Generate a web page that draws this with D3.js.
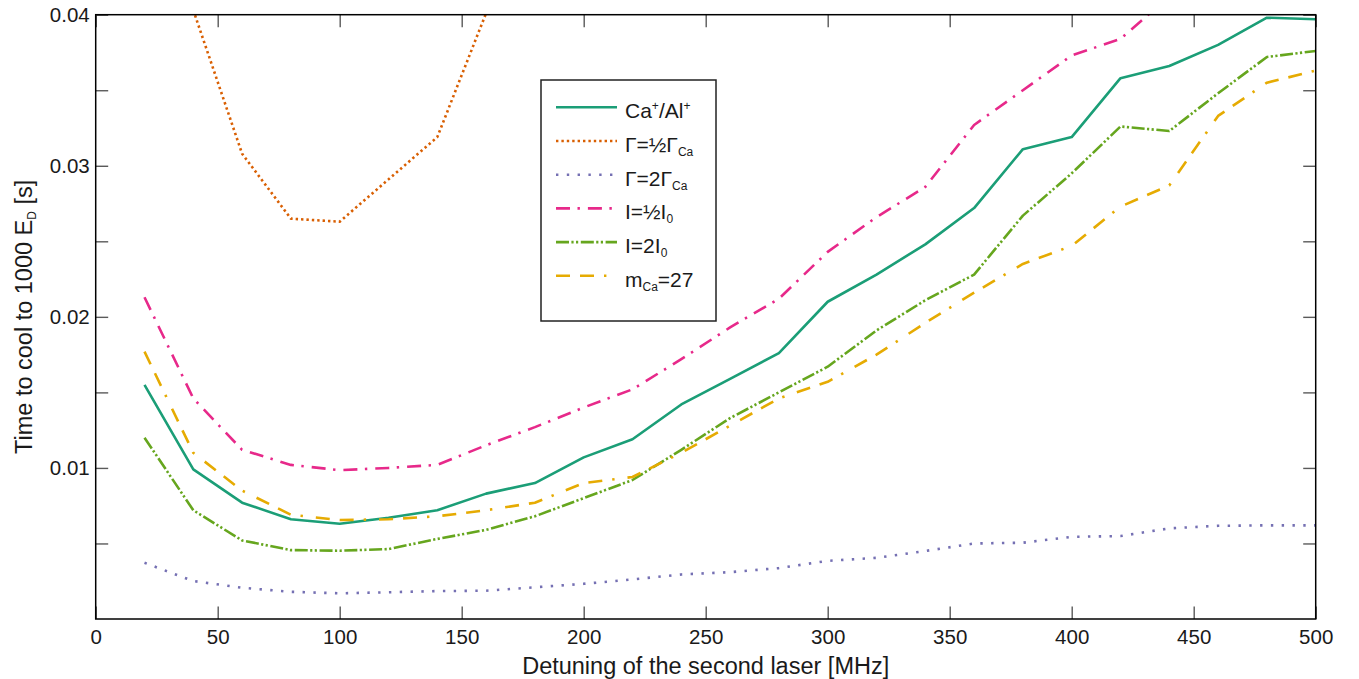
<!DOCTYPE html>
<html>
<head>
<meta charset="utf-8">
<script src="https://cdn.jsdelivr.net/npm/d3@7/dist/d3.min.js"></script>
<style>
  html, body { margin: 0; padding: 0; background: #fff; }
  svg { display: block; font-family: "Liberation Sans", Arial, Helvetica, sans-serif; }
</style>
</head>
<body>
<svg id="chart" width="1359" height="679"></svg>
<script>
// Detuning of the second laser [MHz]
const detuning = [20, 40, 60, 80, 100, 120, 140, 160, 180, 200, 220, 240, 260,
                  280, 300, 320, 340, 360, 380, 400, 420, 440, 460, 480, 500];

// Cooling time to 1000 E_D [s] for each configuration
const caAl = [0.0155, 0.0099, 0.0077, 0.0066, 0.0063, 0.0067, 0.0072, 0.0083, 0.0090, 0.0107,
              0.0119, 0.0142, 0.0159, 0.0176, 0.0210, 0.0228, 0.0248, 0.0272, 0.0311, 0.0319,
              0.0358, 0.0366, 0.0380, 0.0398, 0.0397];
const gammaHalf = [null, 0.0403, 0.0308, 0.0265, 0.0263, 0.0291, 0.0319, 0.0401, null, null,
                   null, null, null, null, null, null, null, null, null, null,
                   null, null, null, null, null];
const gammaDouble = [0.00372, 0.00251, 0.00207, 0.00180, 0.00170, 0.00177, 0.00185, 0.00187, 0.00210, 0.00233,
                     0.00262, 0.00295, 0.00310, 0.00337, 0.00385, 0.00405, 0.00450, 0.00500, 0.00505, 0.00544,
                     0.00549, 0.00600, 0.00617, 0.00620, 0.00620];
const intensityHalf = [0.0213, 0.0146, 0.0112, 0.0102, 0.00985, 0.0100, 0.0102, 0.0115, 0.0127, 0.0140,
                       0.0152, 0.0172, 0.0193, 0.0212, 0.0243, 0.0266, 0.0286, 0.0327, 0.0350, 0.0373,
                       0.0384, 0.0412, null, null, null];
const intensityDouble = [0.0120, 0.0072, 0.0052, 0.00456, 0.00452, 0.00463, 0.0053, 0.0059, 0.0068, 0.0080,
                         0.0092, 0.0112, 0.0133, 0.0150, 0.0167, 0.0191, 0.0211, 0.0228, 0.0267, 0.0295,
                         0.0326, 0.0323, 0.0348, 0.0372, 0.0376];
const massCa27 = [0.0177, 0.0110, 0.0085, 0.0069, 0.00655, 0.0066, 0.0068, 0.0072, 0.0077, 0.0090,
                  0.0094, 0.0110, 0.0128, 0.0146, 0.0157, 0.0175, 0.0196, 0.0216, 0.0235, 0.0247,
                  0.0273, 0.0287, 0.0333, 0.0355, 0.0363];

// Axis ticks
const xTicks = [0, 50, 100, 150, 200, 250, 300, 350, 400, 450, 500];
const yTicks = [0.005, 0.01, 0.015, 0.02, 0.025, 0.03, 0.035, 0.04];
const yLabelled = [0.01, 0.02, 0.03, 0.04];

// Legend labels as runs of normal / sub / sup text
const legendLabels = [
  [["Ca"], ["+", "sup"], ["/Al"], ["+", "sup"]],
  [["Γ=½Γ"], ["Ca", "sub"]],
  [["Γ=2Γ"], ["Ca", "sub"]],
  [["I=½I"], ["0", "sub"]],
  [["I=2I"], ["0", "sub"]],
  [["m"], ["Ca", "sub"], ["=27"]]
];

const series = [
  { values: caAl,            color: "#1b9e77", dash: null },
  { values: gammaHalf,       color: "#d95f02", dash: "2.4,3" },
  { values: gammaDouble,     color: "#7570b3", dash: "2.4,8.4" },
  { values: intensityHalf,   color: "#e7298a", dash: "14,7.5,2.4,8" },
  { values: intensityDouble, color: "#66a61e", dash: "13,2.4,2.2,2.4,2.2,2.6" },
  { values: massCa27,        color: "#e6ab02", dash: "14,10,14,10,2.4,13" }
];

const svg = d3.select("#chart");
const plot = { left: 95.7, right: 1315.7, top: 14.7, bottom: 619 };
const textColor = "#1a1a1a";

const x = d3.scaleLinear().domain([0, 500]).range([plot.left, plot.right]);
const y = d3.scaleLinear().domain([0, 0.04]).range([plot.bottom, plot.top]);

const tickLen = 12.5;
const tickColor = "#5a5a5a";
const near = (v, arr) => arr.some(a => Math.abs(a - v) < 1e-9);

function styleAxis(g, labelled) {
  g.select(".domain").remove();
  g.selectAll(".tick line").attr("stroke", tickColor).attr("stroke-width", 1.4);
  g.selectAll(".tick text")
    .attr("fill", textColor)
    .style("font-size", labelled ? "20.5px" : "0px")
    .style("font-family", "'Liberation Sans', Arial, sans-serif");
}

// Bottom axis
svg.append("g")
  .attr("transform", `translate(0,${plot.bottom})`)
  .call(d3.axisBottom(x).tickValues(xTicks).tickSize(-tickLen).tickPadding(10).tickFormat(d3.format("d")))
  .call(g => styleAxis(g, true));

// Top axis (ticks only)
svg.append("g")
  .attr("transform", `translate(0,${plot.top})`)
  .call(d3.axisTop(x).tickValues(xTicks).tickSize(-tickLen).tickFormat(""))
  .call(g => styleAxis(g, false));

// Left axis
svg.append("g")
  .attr("transform", `translate(${plot.left},0)`)
  .call(d3.axisLeft(y).tickValues(yTicks).tickSize(-tickLen).tickPadding(6)
        .tickFormat(d => near(d, yLabelled) ? d3.format(".2f")(d) : ""))
  .call(g => styleAxis(g, true));

// Right axis (ticks only)
svg.append("g")
  .attr("transform", `translate(${plot.right},0)`)
  .call(d3.axisRight(y).tickValues(yTicks).tickSize(-tickLen).tickFormat(""))
  .call(g => styleAxis(g, false));

// Clip for the data lines
svg.append("defs").append("clipPath").attr("id", "plot-clip")
  .append("rect")
  .attr("x", plot.left).attr("y", plot.top)
  .attr("width", plot.right - plot.left).attr("height", plot.bottom - plot.top);

const line = d3.line()
  .defined(d => d[1] !== null)
  .x(d => x(d[0]))
  .y(d => y(d[1]));

const linesG = svg.append("g").attr("clip-path", "url(#plot-clip)");
series.forEach(s => {
  linesG.append("path")
    .datum(detuning.map((d, i) => [d, s.values[i]]))
    .attr("d", line)
    .attr("fill", "none")
    .attr("stroke", s.color)
    .attr("stroke-width", 2.6)
    .attr("stroke-linejoin", "round")
    .attr("stroke-dasharray", s.dash);
});

// Frame
svg.append("rect")
  .attr("x", plot.left).attr("y", plot.top)
  .attr("width", plot.right - plot.left).attr("height", plot.bottom - plot.top)
  .attr("fill", "none").attr("stroke", "#000").attr("stroke-width", 1.5);

// Axis titles
svg.append("text")
  .attr("x", (plot.left + plot.right) / 2)
  .attr("y", 674)
  .attr("text-anchor", "middle")
  .attr("fill", textColor)
  .style("font-size", "23.5px")
  .text("Detuning of the second laser [MHz]");

const yTitle = svg.append("text")
  .attr("transform", `translate(32,${(plot.top + plot.bottom) / 2}) rotate(-90)`)
  .attr("text-anchor", "middle")
  .attr("fill", textColor)
  .style("font-size", "23.5px");
yTitle.append("tspan").text("Time to cool to 1000 E");
yTitle.append("tspan").attr("dy", 4).style("font-size", "12px").text("D");
yTitle.append("tspan").attr("dy", -4).text(" [s]");

// Legend
const legend = { left: 541, top: 80, right: 716, bottom: 321 };
svg.append("rect")
  .attr("x", legend.left).attr("y", legend.top)
  .attr("width", legend.right - legend.left).attr("height", legend.bottom - legend.top)
  .attr("fill", "#fff").attr("stroke", "#222").attr("stroke-width", 1.5);

const rowY0 = 107.3, rowStep = 33.7;
series.forEach((s, i) => {
  const ry = rowY0 + i * rowStep;
  svg.append("line")
    .attr("x1", 556).attr("x2", 617).attr("y1", ry).attr("y2", ry)
    .attr("stroke", s.color).attr("stroke-width", 2.6)
    .attr("stroke-dasharray", s.dash);
  const t = svg.append("text")
    .attr("x", 625).attr("y", ry + 11)
    .attr("fill", textColor)
    .style("font-size", "21px");
  let shift = 0;
  legendLabels[i].forEach(([txt, kind]) => {
    const target = kind === "sub" ? 4 : kind === "sup" ? -8.5 : 0;
    const ts = t.append("tspan").attr("dy", target - shift).text(txt);
    if (kind) ts.style("font-size", "12px");
    shift = target;
  });
});
</script>
</body>
</html>
